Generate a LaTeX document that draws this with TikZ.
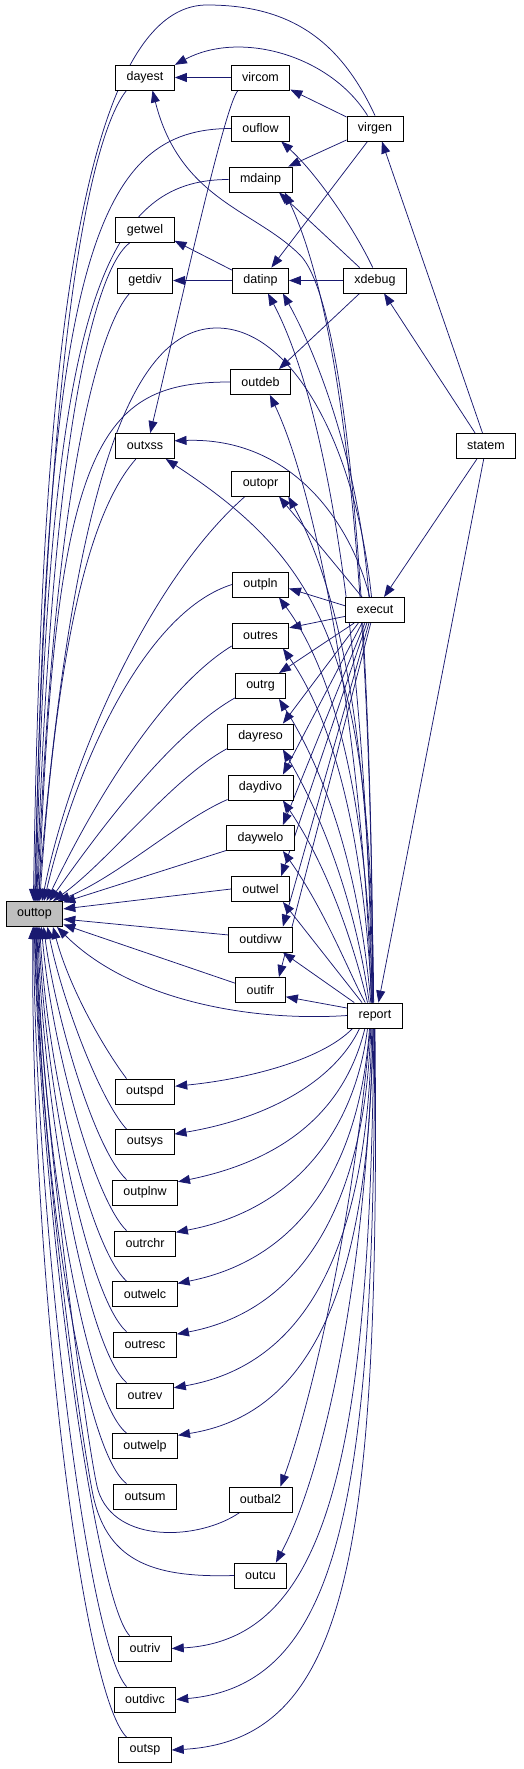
\documentclass[tikz,border=0pt]{standalone}
\usepackage{fontspec}
\setmainfont{Liberation Sans}
\usetikzlibrary{arrows.meta,backgrounds}
\definecolor{edgeblue}{HTML}{191970}
\definecolor{focusgray}{HTML}{BFBFBF}
\tikzset{
  fn/.style={rectangle,draw=black,line width=0.9pt,fill=white,font=\fontsize{12.5}{14}\selectfont,
             inner xsep=11pt,inner ysep=0pt,minimum height=25pt},
  focus/.style={fn,fill=focusgray},
  call/.style={-{Triangle[length=12pt,width=9pt]},line width=0.75pt,draw=edgeblue},
}
\begin{document}
\begin{tikzpicture}[x=1pt,y=1pt]
\useasboundingbox (0,0) rectangle (524,-1769);
\node[fn] (dayest) at (145,-77.5) {dayest};
\node[fn] (vircom) at (260.5,-77.5) {vircom};
\node[fn] (ouflow) at (260.5,-128.5) {ouflow};
\node[fn] (virgen) at (375,-128.5) {virgen};
\node[fn] (mdainp) at (260.5,-179.5) {mdainp};
\node[fn] (getwel) at (145,-230) {getwel};
\node[fn] (getdiv) at (145,-280.5) {getdiv};
\node[fn] (datinp) at (260.5,-280.5) {datinp};
\node[fn] (xdebug) at (375,-280.5) {xdebug};
\node[fn] (outdeb) at (260.5,-382) {outdeb};
\node[fn] (outxss) at (145,-446) {outxss};
\node[fn] (statem) at (486,-446) {statem};
\node[fn] (outopr) at (260.5,-483.5) {outopr};
\node[fn] (outpln) at (260.5,-584.5) {outpln};
\node[fn] (execut) at (375,-610) {execut};
\node[fn] (outres) at (260.5,-635.5) {outres};
\node[fn] (outrg) at (260.5,-686) {outrg};
\node[fn] (dayreso) at (260.5,-736.5) {dayreso};
\node[fn] (daydivo) at (260.5,-787.5) {daydivo};
\node[fn] (daywelo) at (260.5,-838) {daywelo};
\node[fn] (outwel) at (260.5,-889) {outwel};
\node[focus] (outtop) at (34.5,-914) {outtop};
\node[fn] (outdivw) at (260.5,-939.5) {outdivw};
\node[fn] (outifr) at (260.5,-990) {outifr};
\node[fn] (report) at (375,-1015.5) {report};
\node[fn] (outspd) at (145,-1091.5) {outspd};
\node[fn] (outsys) at (145,-1142) {outsys};
\node[fn] (outplnw) at (145,-1192.5) {outplnw};
\node[fn] (outrchr) at (145,-1243.5) {outrchr};
\node[fn] (outwelc) at (145,-1294) {outwelc};
\node[fn] (outresc) at (145,-1344.5) {outresc};
\node[fn] (outrev) at (145,-1395.5) {outrev};
\node[fn] (outwelp) at (145,-1446) {outwelp};
\node[fn] (outsum) at (145,-1496.5) {outsum};
\node[fn] (outbal2) at (260.5,-1499.5) {outbal2};
\node[fn] (outcu) at (260.5,-1575.5) {outcu};
\node[fn] (outriv) at (145,-1648.5) {outriv};
\node[fn] (outdivc) at (145,-1699.5) {outdivc};
\node[fn] (outsp) at (145,-1750) {outsp};
\begin{scope}[on background layer]
% callers of outtop, upper half
\draw[call] (virgen.north) .. controls (340,-40) and (290,-5) .. (207,-5) .. controls (60,-5) and (40,-500) .. (outtop.95);
\draw[call] (dayest.-145) .. controls (95,-130) and (48,-300) .. (outtop.90);
\draw[call] (ouflow.west) .. controls (100,-128.5) and (45,-250) .. (outtop.86);
\draw[call] (mdainp.west) .. controls (105,-179.5) and (48,-300) .. (outtop.83);
\draw[call] (getwel.-140) .. controls (100,-265) and (52,-400) .. (outtop.80);
\draw[call] (getdiv.-140) .. controls (105,-320) and (55,-450) .. (outtop.77);
\draw[call] (execut.105) .. controls (355,-440) and (290,-328) .. (217,-328) .. controls (140,-328) and (75,-450) .. (outtop.74);
\draw[call] (outdeb.west) .. controls (100,-382) and (55,-440) .. (outtop.71);
\draw[call] (outxss.-125) .. controls (100,-500) and (60,-600) .. (outtop.68);
\draw[call] (outopr.-140) .. controls (150,-580) and (70,-760) .. (outtop.60);
\draw[call] (outpln.west) .. controls (150,-610) and (80,-750) .. (outtop.54);
\draw[call] (outres.-160) .. controls (160,-690) and (90,-810) .. (outtop.47);
\draw[call] (outrg.-155) .. controls (170,-735) and (100,-830) .. (outtop.41);
\draw[call] (dayreso.-160) .. controls (170,-780) and (110,-860) .. (outtop.35);
\draw[call] (daydivo.-160) .. controls (180,-820) and (120,-875) .. (outtop.29);
\draw[call] (daywelo.-160) -- (outtop.22);
\draw[call] (outwel.west) -- (outtop.10);
\draw[call] (outdivw.172) -- (outtop.-10);
\draw[call] (outifr.165) -- (outtop.-20);
\draw[call] (report.west) .. controls (250,-1022) and (130,-1000) .. (outtop.-30);
% callers of outtop, lower half
\draw[call] (outspd.145) .. controls (105,-1050) and (70,-990) .. (outtop.-35);
\draw[call] (outsys.145) .. controls (100,-1100) and (62,-1000) .. (outtop.-45);
\draw[call] (outplnw.145) .. controls (95,-1150) and (56,-1020) .. (outtop.-55);
\draw[call] (outrchr.145) .. controls (95,-1200) and (52,-1050) .. (outtop.-62);
\draw[call] (outwelc.145) .. controls (92,-1250) and (48,-1080) .. (outtop.-68);
\draw[call] (outresc.145) .. controls (90,-1300) and (46,-1100) .. (outtop.-72);
\draw[call] (outrev.145) .. controls (88,-1350) and (44,-1120) .. (outtop.-76);
\draw[call] (outwelp.145) .. controls (85,-1400) and (42,-1150) .. (outtop.-79);
\draw[call] (outsum.145) .. controls (82,-1450) and (40,-1170) .. (outtop.-82);
\draw[call] (outbal2.-148) .. controls (200,-1540) and (115,-1545) .. (98,-1490) .. controls (89,-1460) and (40,-1100) .. (outtop.-85);
\draw[call] (outcu.west) .. controls (150,-1578) and (105,-1560) .. (92,-1490) .. controls (70,-1370) and (38,-1100) .. (outtop.-88);
\draw[call] (outriv.140) .. controls (95,-1600) and (40,-1200) .. (outtop.-91);
\draw[call] (outdivc.145) .. controls (85,-1640) and (35,-1200) .. (outtop.-94);
\draw[call] (outsp.145) .. controls (80,-1690) and (30,-1250) .. (outtop.-97);
% top part
\draw[call] (vircom.west) -- (dayest.east);
\draw[call] (vircom.-150) .. controls (225,-102) and (175,-330) .. (outxss.68);
\draw[call] (virgen.158) -- (vircom.-22);
\draw[call] (virgen.120) .. controls (330,-55) and (240,-30) .. (dayest.23);
\draw[call] (virgen.-158) -- (mdainp.25);
\draw[call] (virgen.-120) -- (datinp.50);
\draw[call] (datinp.160) -- (getwel.-20);
\draw[call] (datinp.west) -- (getdiv.east);
\draw[call] (xdebug.west) -- (datinp.east);
\draw[call] (xdebug.140) -- (mdainp.-35);
\draw[call] (xdebug.100) .. controls (355,-230) and (318,-175) .. (ouflow.-32);
\draw[call] (xdebug.-140) -- (outdeb.35);
\draw[call] (statem.105) -- (virgen.-62);
\draw[call] (statem.130) -- (xdebug.-55);
\draw[call] (statem.-125) -- (execut.55);
\draw[call] (statem.-100) -- (report.75);
% execut
\draw[call] (execut.172) -- (outpln.-8);
\draw[call] (execut.-168) -- (outres.15);
\draw[call] (execut.-148) -- (outrg.35);
\draw[call] (execut.-142) -- (dayreso.30);
\draw[call] (execut.-135) -- (daydivo.30);
\draw[call] (execut.-128) -- (daywelo.30);
\draw[call] (execut.-122) -- (outwel.32);
\draw[call] (execut.-115) -- (outdivw.30);
\draw[call] (execut.-108) -- (outifr.35);
\draw[call] (execut.135) -- (outopr.-35);
\draw[call] (execut.112) .. controls (350,-520) and (290,-437) .. (outxss.10);
\draw[call] (execut.115) .. controls (360,-470) and (320,-360) .. (datinp.-30);
% report, upwards
\draw[call] (report.165) -- (outifr.-15);
\draw[call] (report.148) -- (outdivw.-30);
\draw[call] (report.135) -- (outwel.-30);
\draw[call] (report.127) .. controls (350,-975) and (325,-910) .. (daywelo.-30);
\draw[call] (report.120) .. controls (355,-950) and (330,-870) .. (daydivo.-30);
\draw[call] (report.114) .. controls (358,-920) and (330,-830) .. (dayreso.-30);
\draw[call] (report.108) .. controls (360,-880) and (330,-780) .. (outrg.-35);
\draw[call] (report.104) .. controls (365,-860) and (340,-730) .. (outres.-30);
\draw[call] (report.101) .. controls (368,-820) and (340,-680) .. (outpln.-35);
\draw[call] (report.98) .. controls (370,-760) and (345,-600) .. (outopr.-25);
\draw[call] (report.96) .. controls (372,-650) and (320,-560) .. (outxss.-32);
\draw[call] (report.106) .. controls (365,-760) and (320,-500) .. (outdeb.-54);
\draw[call] (report.103) .. controls (368,-700) and (335,-420) .. (datinp.-60);
\draw[call] (report.100) .. controls (372,-650) and (350,-330) .. (mdainp.-28);
\draw[call] (report.99) .. controls (372,-600) and (345,-300) .. (300,-255) .. controls (255,-210) and (180,-200) .. (dayest.-60);
% report, downwards
\draw[call] (report.-150) .. controls (320,-1062) and (240,-1080) .. (outspd.10);
\draw[call] (report.-140) .. controls (335,-1080) and (270,-1118) .. (outsys.15);
\draw[call] (report.-128) .. controls (345,-1110) and (285,-1160) .. (outplnw.18);
\draw[call] (report.-120) .. controls (355,-1130) and (295,-1210) .. (outrchr.20);
\draw[call] (report.-113) .. controls (360,-1160) and (305,-1258) .. (outwelc.18);
\draw[call] (report.-108) .. controls (365,-1200) and (305,-1310) .. (outresc.18);
\draw[call] (report.-104) .. controls (368,-1250) and (305,-1365) .. (outrev.15);
\draw[call] (report.-100) .. controls (370,-1300) and (305,-1415) .. (outwelp.18);
\draw[call] (report.-110) .. controls (350,-1250) and (305,-1420) .. (outbal2.33);
\draw[call] (report.-97) .. controls (365,-1300) and (320,-1480) .. (outcu.40);
\draw[call] (report.-95) .. controls (370,-1450) and (330,-1640) .. (outriv.east);
\draw[call] (report.-92) .. controls (375,-1500) and (340,-1685) .. (outdivc.east);
\draw[call] (report.-90) .. controls (380,-1550) and (350,-1740) .. (outsp.east);
\end{scope}
\end{tikzpicture}
\end{document}
